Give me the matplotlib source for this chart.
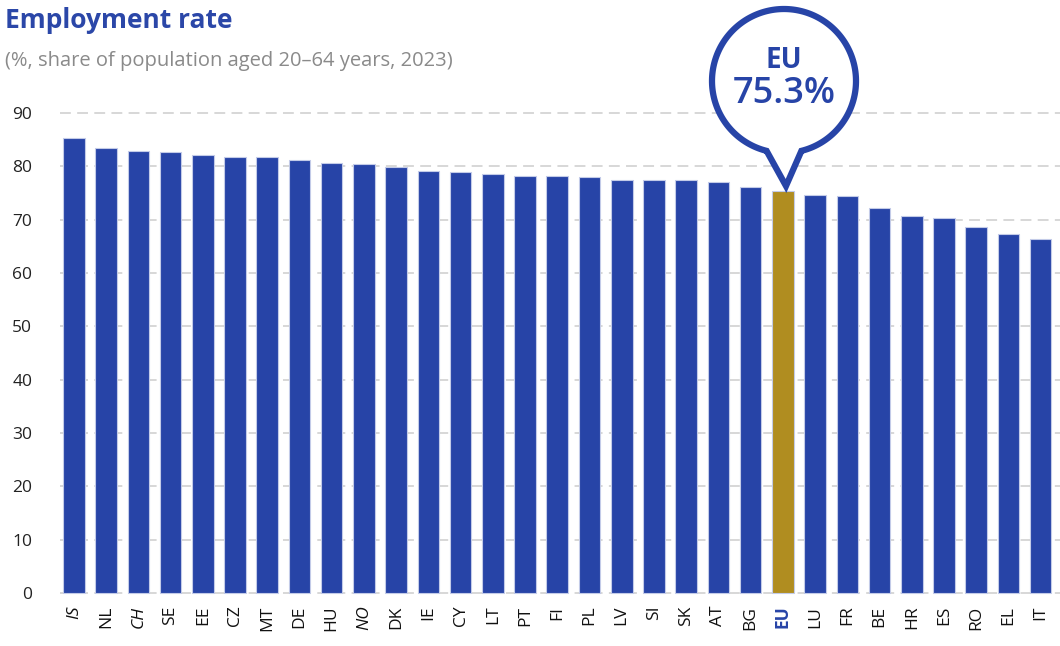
import matplotlib
matplotlib.use("Agg")
import matplotlib.pyplot as plt
import numpy as np
from matplotlib.path import Path
from matplotlib.patches import PathPatch
from matplotlib.transforms import Affine2D

# data
countries = ["IS", "NL", "CH", "SE", "EE", "CZ", "MT", "DE", "HU", "NO", "DK", "IE",
             "CY", "LT", "PT", "FI", "PL", "LV", "SI", "SK", "AT", "BG", "EU", "LU",
             "FR", "BE", "HR", "ES", "RO", "EL", "IT"]
rates = [85.3, 83.5, 82.9, 82.6, 82.1, 81.7, 81.7, 81.1, 80.7, 80.4, 79.8, 79.1,
         78.9, 78.5, 78.2, 78.2, 78.0, 77.4, 77.4, 77.4, 77.1, 76.2, 75.3, 74.6,
         74.4, 72.2, 70.7, 70.4, 68.6, 67.4, 66.3]
non_eu = ["IS", "CH", "NO"]
yticks = list(range(0, 100, 10))

BLUE = "#2744a7"
GOLD = "#b08d20"
W, H = 1060, 646

plt.rcParams["font.family"] = ["Open Sans", "DejaVu Sans"]
fig = plt.figure(figsize=(W / 100, H / 100), dpi=100)
ax = fig.add_axes([60 / W, 0.0796, 1 - 60 / W, 0.8276 - 0.0796])

x = np.arange(len(countries))
colors = [GOLD if c == "EU" else BLUE for c in countries]
ax.bar(x, rates, width=0.67, color=colors, edgecolor="#c3cbe8", linewidth=0.8, zorder=3)

ax.set_xlim(-0.43, len(countries) - 0.4)
ax.set_ylim(-0.3, 90.3)
ax.set_yticks(yticks)
ax.set_yticklabels([str(v) for v in yticks], fontsize=12.5, color="#222222")
ax.yaxis.grid(True, color="#d4d4d4", linestyle=(0, (6, 3.5)), linewidth=1.3, zorder=0)
ax.tick_params(axis="y", length=0, pad=20)
ax.tick_params(axis="x", length=0, pad=8)
ax.set_xticks(x)
ax.set_xticklabels(countries, rotation=90, fontsize=12.5, color="#111111")
for lbl in ax.get_xticklabels():
    t = lbl.get_text()
    if t in non_eu:
        lbl.set_style("italic")
    if t == "EU":
        lbl.set_fontweight("bold")
        lbl.set_color(BLUE)
for s in ax.spines.values():
    s.set_visible(False)

fig.text(5 / W, 1 - 20 / H, "Employment rate", fontsize=19, fontweight="bold",
         color="#2b47a8", va="center", ha="left")
fig.text(5 / W, 1 - 61 / H, "(%, share of population aged 20\u201364 years, 2023)",
         fontsize=14.5, color="#8a8a8a", va="center", ha="left")

# callout bubble (pixel coords, y up)
cx, cy, r = 784, H - 81, 72
tip = (786, H - 186)
a1, a2 = np.radians(-76), np.radians(256)
th = np.linspace(a1, a2, 200)
verts = [(cx + r * np.cos(t), cy + r * np.sin(t)) for t in th]
verts += [tip, verts[0]]
codes = [Path.MOVETO] + [Path.LINETO] * (len(verts) - 2) + [Path.CLOSEPOLY]
tr = Affine2D().scale(1 / W, 1 / H) + fig.transFigure
fig.patches.append(PathPatch(Path(verts, codes), facecolor="white", edgecolor=BLUE,
                             linewidth=4.5, transform=tr, joinstyle="miter", zorder=5))
fig.text(cx / W, (H - 61) / H, "EU", fontsize=20, fontweight="bold", color=BLUE,
         ha="center", va="center", zorder=6)
fig.text(cx / W, (H - 94) / H, "75.3%", fontsize=26, fontweight="semibold", color=BLUE,
         ha="center", va="center", zorder=6)

fig.savefig("out.png", dpi=100)
